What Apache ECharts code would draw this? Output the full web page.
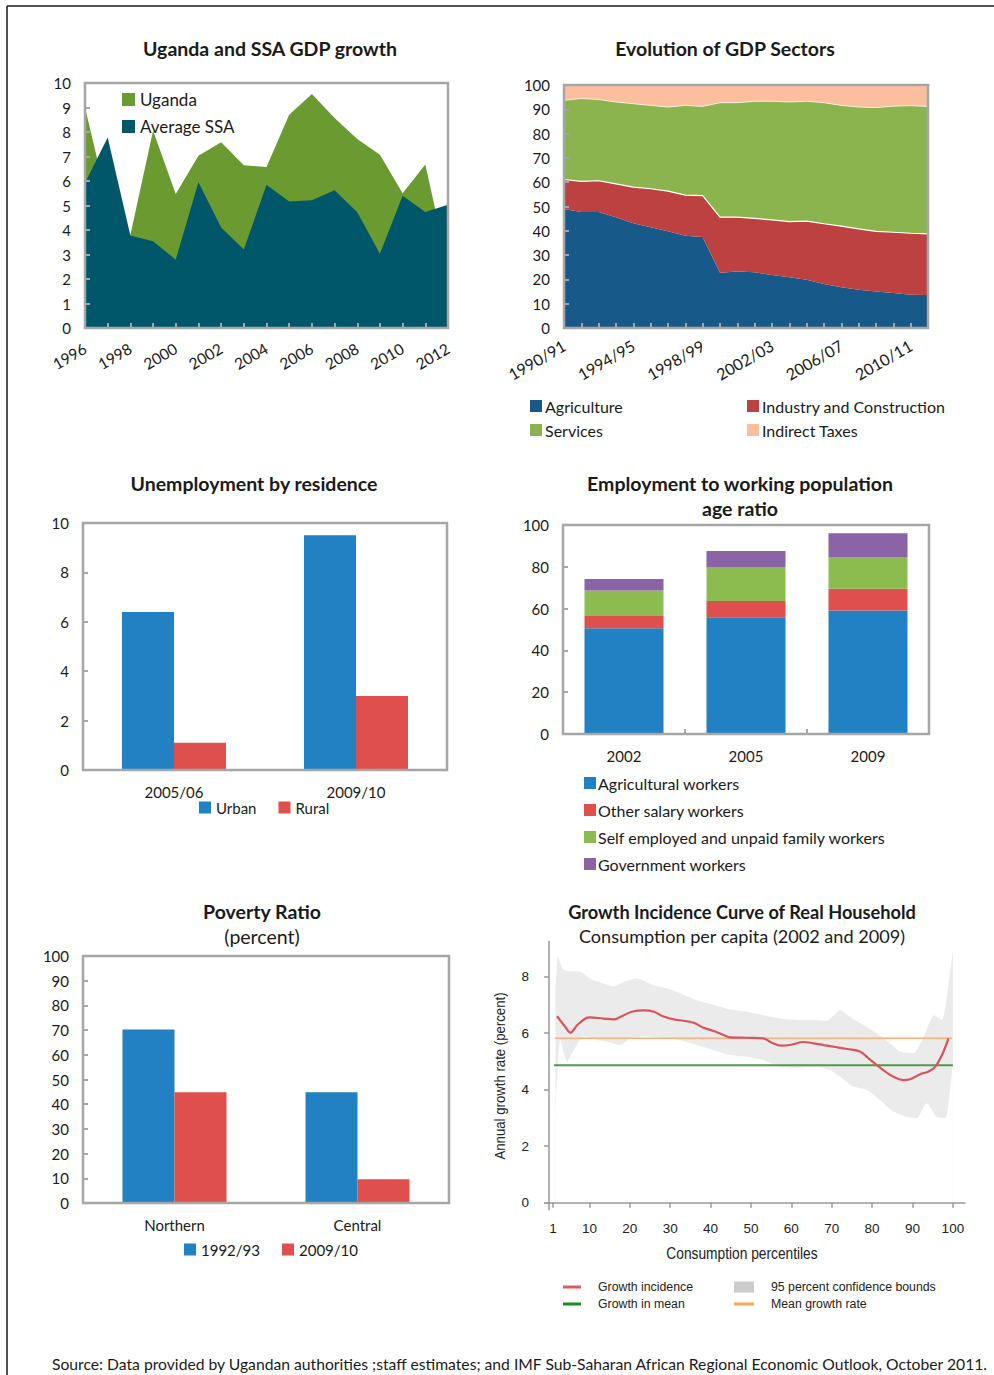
<!DOCTYPE html>
<html><head><meta charset="utf-8">
<script src="https://cdn.jsdelivr.net/npm/echarts@6/dist/echarts.min.js"></script>
<style>html,body{margin:0;padding:0;background:#fff}#c{width:994px;height:1375px}</style>
</head><body><div id="c"></div>
<script>
// ---------- DATA ----------
const gdpYears = ['1996','1997','1998','1999','2000','2001','2002','2003','2004','2005','2006','2007','2008','2009','2010','2011','2012'];
const ugandaGrowth = [9.0,5.1,3.8,8.05,5.47,7.03,7.58,6.64,6.57,8.7,9.55,8.57,7.71,7.07,5.5,6.67,2.5];
const ssaGrowth = [5.92,7.78,3.78,3.54,2.79,5.95,4.1,3.2,5.85,5.16,5.21,5.62,4.72,3.03,5.4,4.73,5.03];

const sectorYears = ['1990/91','1991/92','1992/93','1993/94','1994/95','1995/96','1996/97','1997/98','1998/99','1999/00','2000/01','2001/02','2002/03','2003/04','2004/05','2005/06','2006/07','2007/08','2008/09','2009/10','2010/11','2011/12'];
const agriShare = [49.0,47.7,47.7,45.6,43.1,41.5,39.8,38.0,37.4,22.7,23.2,22.9,21.8,20.9,19.9,18.1,16.8,15.7,15.0,14.4,13.7,13.6];
const industryShare = [12.1,12.6,12.9,13.7,14.9,15.8,16.5,16.7,17.1,22.9,22.4,22.2,22.7,22.9,24.1,24.8,25.1,25.1,24.8,25.0,25.3,25.1];
const servicesShare = [32.6,34.1,33.4,33.7,34.3,34.3,34.6,36.9,36.7,47.1,47.1,48.2,48.8,49.2,49.3,49.8,49.7,50.1,50.9,51.9,52.5,52.5];
const taxShare = [6.3,5.6,6.0,7.0,7.7,8.4,9.1,8.4,8.8,7.3,7.3,6.7,6.7,7.0,6.7,7.3,8.4,9.1,9.3,8.7,8.5,8.8];

const unempCats = ['2005/06','2009/10'];
const urbanUnemp = [6.4,9.5];
const ruralUnemp = [1.1,3.0];

const empYears = ['2002','2005','2009'];
const agriWorkers = [50.6,55.9,59.1];
const otherSalaryWorkers = [5.9,7.7,10.4];
const selfEmployedWorkers = [12.2,16.3,15.2];
const govWorkers = [5.5,7.7,11.3];

const povertyRegions = ['Northern','Central'];
const poverty1992 = [70.2,44.8];
const poverty2009 = [44.8,9.6];

const gicPercentile = [2,4,5.3,7,9,10,13.5,16,17.7,20.5,23.4,26,28,30.9,33.3,35.8,38.3,40.8,43.2,44.9,49,53,55.2,57.7,60.2,63,65.5,68,70.5,73.8,77,79.1,81.2,83.3,85.3,87.8,89.4,91.9,93.9,95.6,97.3,98.9];
const gicRate = [6.6,6.23,6.02,6.29,6.52,6.56,6.52,6.49,6.58,6.76,6.81,6.76,6.61,6.49,6.44,6.37,6.19,6.08,5.94,5.85,5.84,5.82,5.66,5.56,5.6,5.69,5.64,5.58,5.52,5.44,5.35,5.11,4.87,4.64,4.46,4.34,4.37,4.55,4.64,4.81,5.23,5.82];
const upperPercentile = [1.6,2.2,3.6,7.8,10.2,13.5,16,18.5,21.8,25.9,29.2,32.5,36.6,40.8,44.9,49,53.1,57.2,61.4,65.5,68.8,72.1,74.6,77.9,81.2,84.5,87,90.3,92.8,95.3,97.3,98.5,100];
const upperBound = [7.5,8.7,8.24,8.18,7.94,7.76,7.65,7.82,7.94,7.7,7.59,7.41,7.17,7.0,6.84,6.76,6.64,6.52,6.47,6.47,6.44,6.82,6.56,6.29,5.99,5.64,5.35,5.29,5.88,6.64,6.47,7.29,8.94];
const lowerPercentile = [1.6,2.8,4.5,6.1,8.6,11.9,14.4,17.7,20.1,24.3,28.4,32.5,36.6,40.8,44.9,49,53.1,57.2,61.4,65.5,69.6,72.1,75.4,78.7,82,85.3,88.6,91,93.5,96,98.1,99.3,100];
const lowerBound = [3.16,5.76,4.99,5.4,5.88,5.76,5.7,5.58,5.82,5.88,5.82,5.76,5.58,5.4,5.23,5.17,5.05,4.81,4.76,4.81,4.7,4.46,4.11,3.99,3.63,3.22,3.04,2.99,3.52,3.04,2.99,3.99,4.93];
const meanGrowthRate = 5.82;
const growthInMean = 4.87;
const meanLineRange = [1.5, 99.8];
const growthMeanRange = [1.2, 100];
const gicTicks = [1,10,20,30,40,50,60,70,80,90,100];
const gicYTicks = [0,2,4,6,8];

// ---------- STYLE ----------
const FONT = 'Lato, "Open Sans", sans-serif';
const NARROW = '"Liberation Sans", Arial, sans-serif';
const TXT = '#1a1a1a';
const FRAME = '#a6a6a6';
const C = {
  green1:'#6A9A30', teal:'#00576A',
  agri:'#175A8A', ind:'#BE4141', serv:'#8BB44E', tax:'#FCBF9E',
  blue:'#2181C2', red:'#DE4F4E', lgreen:'#8CBC4F', purple:'#8A64A6',
  gicRed:'#D9535B', gicGreen:'#4E9A4E', gicOrange:'#F9B07E', band:'#EBEBEB'
};

const grids = [
  {left:85, top:83, width:363, height:245},
  {left:564, top:85, width:364, height:243},
  {left:83, top:523, width:364, height:247},
  {left:563, top:525, width:366, height:209},
  {left:83, top:956, width:366, height:247},
  {left:545, top:941.4, width:420, height:268.4}
];

function lbl(extra){ return Object.assign({fontFamily:FONT, fontSize:15, color:TXT}, extra||{}); }
function tickIn(extra){ return Object.assign({show:true, inside:true, length:5, lineStyle:{color:FRAME, width:2}}, extra||{}); }
function valueY(gi, max, interval){
  return {gridIndex:gi, type:'value', min:0, max:max, interval:interval, z:10,
    axisLine:{show:false}, splitLine:{show:false}, axisTick:tickIn(), axisLabel:lbl({margin:14})};
}
function pairs(xs, ys){ return xs.map((x,i)=>[x, ys[i]]); }

const xAxes = [
  {gridIndex:0, type:'category', data:gdpYears, boundaryGap:false, z:10, axisLine:{show:false},
   axisTick:tickIn({interval:0}), axisLabel:lbl({interval:1, rotate:30, margin:19, fontSize:15.5})},
  {gridIndex:1, type:'category', data:sectorYears, boundaryGap:false, z:10, axisLine:{show:false},
   axisTick:tickIn({interval:0}), axisLabel:lbl({interval:3, rotate:30, margin:16, fontSize:16})},
  {gridIndex:2, type:'category', data:unempCats, z:10, axisLine:{show:false}, axisTick:{show:false}, axisLabel:lbl({margin:14})},
  {gridIndex:3, type:'category', data:empYears, z:10, axisLine:{show:false}, axisTick:tickIn(), axisLabel:lbl({margin:14})},
  {gridIndex:4, type:'category', data:povertyRegions, z:10, axisLine:{show:false}, axisTick:{show:false}, axisLabel:lbl({margin:14})},
  {gridIndex:5, type:'value', min:-1, max:103, z:10, splitLine:{show:false},
   axisLine:{show:true, lineStyle:{color:'#9a9a9a', width:1.5}},
   axisTick:{show:true, inside:false, length:5, customValues:gicTicks, lineStyle:{color:'#9a9a9a', width:1.5}},
   axisLabel:{customValues:gicTicks, fontFamily:NARROW, fontSize:13.5, color:'#222', margin:12}}
];
const yAxes = [
  valueY(0,10,1), valueY(1,100,10), valueY(2,10,2), valueY(3,100,20), valueY(4,100,10),
  {gridIndex:5, type:'value', min:-0.25, max:9.25, z:10, splitLine:{show:false},
   axisLine:{show:true, lineStyle:{color:'#9a9a9a', width:1.5}},
   axisTick:{show:true, inside:false, length:5, customValues:gicYTicks, lineStyle:{color:'#9a9a9a', width:1.5}},
   axisLabel:{customValues:gicYTicks, fontFamily:NARROW, fontSize:13.5, color:'#222', margin:16}}
];

function area(name, gi, data, color, stack, lineStyle){
  return {name, type:'line', xAxisIndex:gi, yAxisIndex:gi, data, stack, color, symbol:'none', showSymbol:false,
    lineStyle: lineStyle || {width:0, opacity:0}, areaStyle:{color, opacity:1}, emphasis:{disabled:true}};
}
function bar(name, gi, data, color, extra){
  return Object.assign({name, type:'bar', xAxisIndex:gi, yAxisIndex:gi, data, color, itemStyle:{color}, emphasis:{disabled:true}}, extra);
}
function legItem(name, color){ return {name, itemStyle:{color}}; }
function legend(items, extra){
  return Object.assign({data:items, padding:0, icon:'rect', itemWidth:12, itemHeight:12, selectedMode:false,
    textStyle:{fontFamily:FONT, fontSize:15, color:TXT}}, extra);
}

const series = [
  area('Uganda',0,ugandaGrowth,C.green1),
  area('Average SSA',0,ssaGrowth,C.teal),
  area('Agriculture',1,agriShare,C.agri,'sec'),
  area('Industry and Construction',1,industryShare,C.ind,'sec',{color:'#ffffff', width:1.2}),
  area('Services',1,servicesShare,C.serv,'sec',{color:'#f4f4f4', width:0.8}),
  area('Indirect Taxes',1,taxShare,C.tax,'sec'),
  bar('Urban',2,urbanUnemp,C.blue,{barWidth:52, barGap:'0%'}),
  bar('Rural',2,ruralUnemp,C.red,{barWidth:52, barGap:'0%'}),
  bar('Agricultural workers',3,agriWorkers,C.blue,{stack:'emp', barWidth:79}),
  bar('Other salary workers',3,otherSalaryWorkers,C.red,{stack:'emp', barWidth:79}),
  bar('Self employed and unpaid family workers',3,selfEmployedWorkers,C.lgreen,{stack:'emp', barWidth:79}),
  bar('Government workers',3,govWorkers,C.purple,{stack:'emp', barWidth:79}),
  bar('1992/93',4,poverty1992,C.blue,{barWidth:52, barGap:'0%'}),
  bar('2009/10',4,poverty2009,C.red,{barWidth:52, barGap:'0%'}),
  {name:'95 percent confidence bounds', type:'line', xAxisIndex:5, yAxisIndex:5, z:2, color:'#cccccc',
   data:pairs(upperPercentile, upperBound), symbol:'none', smooth:0.2,
   lineStyle:{width:0, opacity:0}, areaStyle:{color:C.band, opacity:1}, emphasis:{disabled:true}},
  {name:'lower bound mask', type:'line', xAxisIndex:5, yAxisIndex:5, z:3, color:'#ffffff',
   data:pairs(lowerPercentile, lowerBound), symbol:'none', smooth:0.2,
   lineStyle:{width:0, opacity:0}, areaStyle:{color:'#ffffff', opacity:1}, emphasis:{disabled:true}},
  {name:'Mean growth rate', type:'line', xAxisIndex:5, yAxisIndex:5, z:4, color:C.gicOrange,
   data:meanLineRange.map(p=>[p, meanGrowthRate]), symbol:'none', lineStyle:{width:1.5, color:C.gicOrange}},
  {name:'Growth in mean', type:'line', xAxisIndex:5, yAxisIndex:5, z:4, color:C.gicGreen,
   data:growthMeanRange.map(p=>[p, growthInMean]), symbol:'none', lineStyle:{width:2, color:C.gicGreen}},
  {name:'Growth incidence', type:'line', xAxisIndex:5, yAxisIndex:5, z:5, color:C.gicRed,
   data:pairs(gicPercentile, gicRate), symbol:'none', smooth:0.4, lineStyle:{width:2.2, color:C.gicRed}}
];

const NARROW_TS = {fontFamily:NARROW, fontSize:12.3, color:'#222', padding:[0,0,0,12]};
const legends = [
  legend([legItem('Uganda',C.green1), legItem('Average SSA',C.teal)], {orient:'vertical', left:122, top:91, itemWidth:13, itemHeight:13, itemGap:10, textStyle:{fontFamily:FONT, fontSize:17, color:TXT}}),
  legend([legItem('Agriculture',C.agri), legItem('Services',C.serv)], {orient:'vertical', left:530, top:398, itemGap:8, textStyle:{fontFamily:FONT, fontSize:16, color:TXT, padding:[0,0,0,-2]}}),
  legend([legItem('Industry and Construction',C.ind), legItem('Indirect Taxes',C.tax)], {orient:'vertical', left:747, top:398, itemGap:8, textStyle:{fontFamily:FONT, fontSize:16, color:TXT, padding:[0,0,0,-2]}}),
  legend([legItem('Urban',C.blue), legItem('Rural',C.red)], {orient:'horizontal', left:199, top:800, itemGap:22}),
  legend([legItem('Agricultural workers',C.blue), legItem('Other salary workers',C.red), legItem('Self employed and unpaid family workers',C.lgreen), legItem('Government workers',C.purple)], {orient:'vertical', left:584, top:775, itemGap:11, textStyle:{fontFamily:FONT, fontSize:16, color:TXT, padding:[0,0,0,-3]}}),
  legend([legItem('1992/93',C.blue), legItem('2009/10',C.red)], {orient:'horizontal', left:184, top:1242, itemGap:22}),
  legend([legItem('Growth incidence','#E05A5A'), legItem('Growth in mean','#1E8C1E')], {orient:'vertical', left:563, top:1281, itemWidth:18, itemHeight:3, itemGap:5, textStyle:NARROW_TS}),
  legend([legItem('95 percent confidence bounds','#cccccc')], {orient:'vertical', left:734, top:1281, itemWidth:20, itemHeight:11, textStyle:NARROW_TS}),
  legend([legItem('Mean growth rate','#FFA452')], {orient:'vertical', left:734, top:1298, itemWidth:20, itemHeight:3, textStyle:NARROW_TS})
];

function text(t, x, y, font, extra){
  return Object.assign({type:'text', x, y, z:100, silent:true,
    style:{text:t, font, fill:TXT, textAlign:'center', textVerticalAlign:'middle'}}, extra||{});
}
const BOLD = 'bold 19.5px ' + FONT;
const graphics = [
  {type:'line', z:100, shape:{x1:7, y1:6, x2:7, y2:1375}, style:{stroke:'#1a1a1a', lineWidth:1.5}},
  {type:'line', z:100, shape:{x1:7, y1:6, x2:994, y2:6}, style:{stroke:'#1a1a1a', lineWidth:1.5}},
  text('Uganda and SSA GDP growth', 270, 48, BOLD),
  text('Evolution of GDP Sectors', 725, 48, BOLD),
  text('Unemployment by residence', 254, 483, BOLD),
  text('Employment to working population', 740, 483, BOLD),
  text('age ratio', 740, 508, BOLD),
  text('Poverty Ratio', 262, 911, BOLD),
  text('(percent)', 262, 936, '19.5px ' + FONT),
  text('Growth Incidence Curve of Real Household', 742, 912, 'bold 18.2px ' + FONT),
  text('Consumption per capita (2002 and 2009)', 742, 936, '18.1px ' + FONT),
  {type:'text', x:742, y:1253, z:100, silent:true, scaleX:0.86,
   style:{text:'Consumption percentiles', font:'16px '+NARROW, fill:'#222', textAlign:'center', textVerticalAlign:'middle'}},
  {type:'text', x:500, y:1076, rotation:Math.PI/2, z:100, silent:true, scaleX:0.88,
   style:{text:'Annual growth rate (percent)', font:'15px '+NARROW, fill:'#222', textAlign:'center', textVerticalAlign:'middle'}},
  {type:'text', x:52, y:1364, z:100, silent:true,
   style:{text:'Source: Data provided by Ugandan authorities ;staff estimates; and IMF Sub-Saharan African Regional Economic Outlook, October 2011.', font:'15.7px '+FONT, fill:TXT, textAlign:'left', textVerticalAlign:'middle'}}
];
// plot frames for the five boxed charts
grids.slice(0,5).forEach(g => graphics.push({type:'rect', z:100, silent:true,
  shape:{x:g.left, y:g.top, width:g.width, height:g.height}, style:{fill:null, stroke:FRAME, lineWidth:2.5}}));

const chart = echarts.init(document.getElementById('c'), null, {renderer:'svg'});
chart.setOption({
  animation:false,
  backgroundColor:'#ffffff',
  textStyle:{fontFamily:FONT},
  grid: grids,
  xAxis: xAxes,
  yAxis: yAxes,
  legend: legends,
  series: series,
  graphic: graphics
});
</script></body></html>
